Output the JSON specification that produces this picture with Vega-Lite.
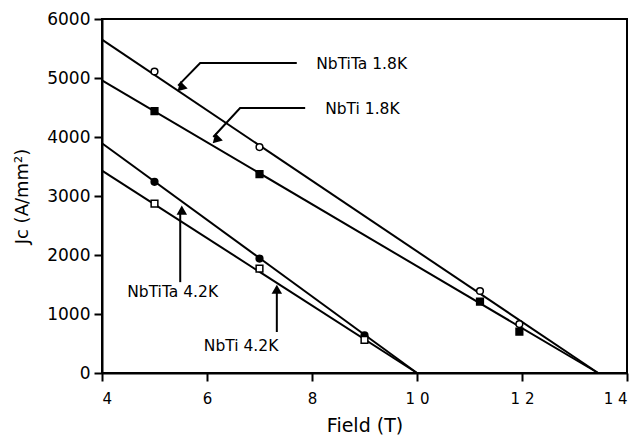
{
  "$schema": "https://vega.github.io/schema/vega-lite/v6.json",
  "width": 525,
  "height": 354,
  "autosize": {"type": "none"},
  "padding": {"left": 102, "top": 19, "right": 10, "bottom": 72},
  "background": "white",
  "config": {
    "view": {"stroke": "black", "strokeWidth": 2},
    "font": "DejaVu Sans",
    "axis": {"domainColor": "black", "domainWidth": 2, "tickColor": "black", "tickWidth": 2, "labelColor": "black", "titleColor": "black", "grid": false, "labelFont": "DejaVu Sans", "titleFont": "DejaVu Sans", "labelFontWeight": "normal", "titleFontWeight": "normal"}
  },
  "datasets": {
    "lines": [
      {"series": "NbTiTa 1.8K", "field": 4, "jc": 5650},
      {"series": "NbTiTa 1.8K", "field": 13.45, "jc": 0},
      {"series": "NbTi 1.8K", "field": 4, "jc": 4960},
      {"series": "NbTi 1.8K", "field": 13.45, "jc": 0},
      {"series": "NbTiTa 4.2K", "field": 4, "jc": 3895},
      {"series": "NbTiTa 4.2K", "field": 10, "jc": 0},
      {"series": "NbTi 4.2K", "field": 4, "jc": 3430},
      {"series": "NbTi 4.2K", "field": 10, "jc": 0}
    ],
    "points": [
      {"series": "NbTiTa 1.8K", "field": 5, "jc": 5110},
      {"series": "NbTiTa 1.8K", "field": 7, "jc": 3830},
      {"series": "NbTiTa 1.8K", "field": 11.2, "jc": 1390},
      {"series": "NbTiTa 1.8K", "field": 11.95, "jc": 830},
      {"series": "NbTi 1.8K", "field": 5, "jc": 4440},
      {"series": "NbTi 1.8K", "field": 7, "jc": 3370},
      {"series": "NbTi 1.8K", "field": 11.2, "jc": 1210},
      {"series": "NbTi 1.8K", "field": 11.95, "jc": 700},
      {"series": "NbTiTa 4.2K", "field": 5, "jc": 3240},
      {"series": "NbTiTa 4.2K", "field": 7, "jc": 1940},
      {"series": "NbTiTa 4.2K", "field": 9, "jc": 640},
      {"series": "NbTi 4.2K", "field": 5, "jc": 2870},
      {"series": "NbTi 4.2K", "field": 7, "jc": 1770},
      {"series": "NbTi 4.2K", "field": 9, "jc": 560}
    ],
    "arrows": [
      {"arrow": "a1", "order": 1, "field": 7.71, "jc": 5254},
      {"arrow": "a1", "order": 2, "field": 5.87, "jc": 5254},
      {"arrow": "a1", "order": 3, "field": 5.45, "jc": 4870},
      {"arrow": "a2", "order": 1, "field": 7.87, "jc": 4492},
      {"arrow": "a2", "order": 2, "field": 6.63, "jc": 4492},
      {"arrow": "a2", "order": 3, "field": 6.12, "jc": 4000},
      {"arrow": "a3", "order": 1, "field": 5.49, "jc": 1540},
      {"arrow": "a3", "order": 2, "field": 5.49, "jc": 2750},
      {"arrow": "a4", "order": 1, "field": 7.33, "jc": 695},
      {"arrow": "a4", "order": 2, "field": 7.33, "jc": 1450}
    ],
    "heads": [
      {"arrow": "a1", "dir": "diag", "field": 5.5, "jc": 4830},
      {"arrow": "a2", "dir": "diag", "field": 6.17, "jc": 3950},
      {"arrow": "a3", "dir": "up", "field": 5.52, "jc": 2760},
      {"arrow": "a4", "dir": "up", "field": 7.33, "jc": 1420}
    ],
    "labels": [
      {"text": "NbTiTa 1.8K", "field": 8.08, "jc": 5240},
      {"text": "NbTi 1.8K", "field": 8.25, "jc": 4475},
      {"text": "NbTiTa 4.2K", "field": 4.48, "jc": 1373},
      {"text": "NbTi 4.2K", "field": 5.94, "jc": 458}
    ],
    "yminor": [{"jc": 500}, {"jc": 1500}, {"jc": 2500}, {"jc": 3500}, {"jc": 4500}, {"jc": 5500}],
    "xminor": [{"field": 5}, {"field": 7}, {"field": 9}, {"field": 11}, {"field": 13}]
  },
  "encoding": {
    "x": {
      "field": "field", "type": "quantitative",
      "scale": {"domain": [4, 14], "nice": false, "zero": false},
      "axis": {"values": [4, 6, 8, 10, 12, 14], "title": "Field (T)", "titleFontSize": 19, "titlePadding": 10, "labelFontSize": 15, "labelPadding": 10, "tickSize": 8, "labelExpr": "replace(datum.label, /^1(\\d)$/, '1 $1')"}
    },
    "y": {
      "field": "jc", "type": "quantitative",
      "scale": {"domain": [0, 6000], "nice": false},
      "axis": {"values": [0, 1000, 2000, 3000, 4000, 5000, 6000], "format": "d", "title": "Jc (A/mm²)", "titleFontSize": 18, "titlePadding": 15, "labelFontSize": 17, "labelPadding": 4, "tickSize": 8}
    }
  },
  "layer": [
    {
      "data": {"name": "lines"},
      "mark": {"type": "line", "color": "black", "strokeWidth": 2},
      "encoding": {"detail": {"field": "series"}}
    },
    {
      "data": {"name": "yminor"},
      "mark": {"type": "rule", "color": "black", "strokeWidth": 2, "clip": false},
      "encoding": {"x": {"datum": 4}, "x2": {"datum": 3.89}}
    },
    {
      "data": {"name": "xminor"},
      "mark": {"type": "rule", "color": "black", "strokeWidth": 2},
      "encoding": {"y": {"datum": 0}, "y2": {"datum": 85}}
    },
    {
      "data": {"name": "points"},
      "mark": {"type": "point", "size": 45, "strokeWidth": 1.5, "opacity": 1},
      "encoding": {
        "shape": {"field": "series", "type": "nominal", "scale": {"domain": ["NbTiTa 1.8K", "NbTi 1.8K", "NbTiTa 4.2K", "NbTi 4.2K"], "range": ["circle", "square", "circle", "square"]}, "legend": null},
        "fill": {"field": "series", "type": "nominal", "scale": {"domain": ["NbTiTa 1.8K", "NbTi 1.8K", "NbTiTa 4.2K", "NbTi 4.2K"], "range": ["white", "black", "black", "white"]}, "legend": null},
        "stroke": {"value": "black"}
      }
    },
    {
      "data": {"name": "arrows"},
      "mark": {"type": "line", "color": "black", "strokeWidth": 2},
      "encoding": {"detail": {"field": "arrow"}, "order": {"field": "order"}}
    },
    {
      "data": {"name": "heads"},
      "transform": [{"filter": "datum.dir == 'diag'"}],
      "mark": {"type": "point", "shape": "triangle-up", "angle": 225, "size": 110, "filled": true, "color": "black", "opacity": 1}
    },
    {
      "data": {"name": "heads"},
      "transform": [{"filter": "datum.dir == 'up'"}],
      "mark": {"type": "point", "shape": "triangle-up", "angle": 0, "size": 110, "filled": true, "color": "black", "opacity": 1}
    },
    {
      "data": {"name": "labels"},
      "mark": {"type": "text", "align": "left", "baseline": "middle", "fontSize": 15.5, "font": "DejaVu Sans", "color": "black"},
      "encoding": {"text": {"field": "text"}}
    }
  ]
}
